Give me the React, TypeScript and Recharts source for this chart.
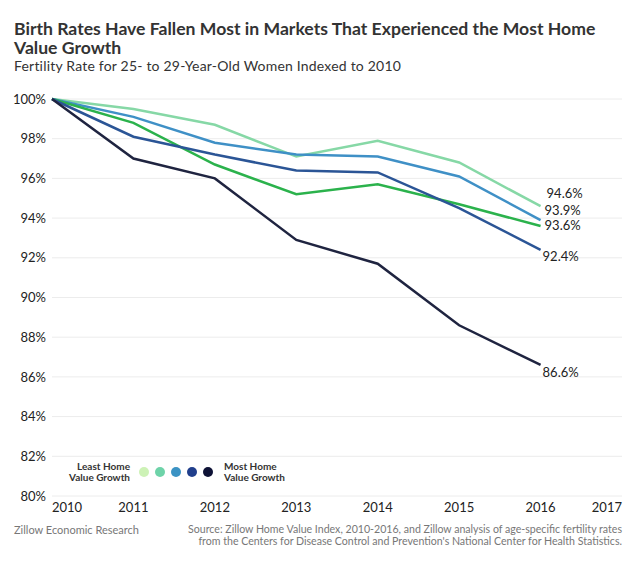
import React from 'react';
import { LineChart, Line, XAxis, YAxis, CartesianGrid, LabelList } from 'recharts';

const years = [2010, 2011, 2012, 2013, 2014, 2015, 2016];
const leastGrowth = [100, 99.5, 98.7, 97.1, 97.9, 96.8, 94.6];
const lowGrowth = [100, 99.1, 97.8, 97.2, 97.1, 96.1, 93.9];
const midGrowth = [100, 98.8, 96.7, 95.2, 95.7, 94.7, 93.6];
const highGrowth = [100, 98.1, 97.2, 96.4, 96.3, 94.5, 92.4];
const mostGrowth = [100, 97.0, 96.0, 92.9, 91.7, 88.6, 86.6];

const xTicks = [2010, 2011, 2012, 2013, 2014, 2015, 2016, 2017];
const yTicks = [80, 82, 84, 86, 88, 90, 92, 94, 96, 98, 100];
const legendColors = ['#cdf2b6', '#6ed3a9', '#3b93c4', '#213f8c', '#0e1236'];

const titleLine1 = 'Birth Rates Have Fallen Most in Markets That Experienced the Most Home';
const titleLine2 = 'Value Growth';
const subtitle = 'Fertility Rate for 25- to 29-Year-Old Women Indexed to 2010';
const legendLeft = ['Least Home', 'Value Growth'];
const legendRight = ['Most Home', 'Value Growth'];
const footerLeft = 'Zillow Economic Research';
const footerRight1 = 'Source: Zillow Home Value Index, 2010-2016, and Zillow analysis of age-specific fertility rates';
const footerRight2 = "from the Centers for Disease Control and Prevention's National Center for Health Statistics.";

const series = [
  { key: 'leastGrowth', values: leastGrowth, color: '#86d8a6', dx: 6, dy: -13 },
  { key: 'lowGrowth', values: lowGrowth, color: '#3f90c6', dx: 4, dy: -10 },
  { key: 'midGrowth', values: midGrowth, color: '#2bb24c', dx: 4, dy: -1 },
  { key: 'highGrowth', values: highGrowth, color: '#2b5596', dx: 2, dy: 7 },
  { key: 'mostGrowth', values: mostGrowth, color: '#1f2440', dx: 2, dy: 7 },
];

const data = years.map((year, i) => {
  const row: Record<string, number> = { year };
  series.forEach((s) => {
    row[s.key] = s.values[i];
  });
  return row;
});

const FONT = 'Lato, "Open Sans", sans-serif';

const XTick = (props: any) => {
  const { x, y, payload } = props;
  const v = payload.value;
  const anchor = v === xTicks[0] ? 'start' : v === xTicks[xTicks.length - 1] ? 'end' : 'middle';
  return (
    <text x={x} y={y} dy="0.71em" textAnchor={anchor} fill="#222" fontSize={13} fontFamily={FONT}>
      {v}
    </text>
  );
};

const makeEndLabel = (dx: number, dy: number) => (props: any) => {
  const { x, y, index, value } = props;
  if (index !== years.length - 1) return null;
  return (
    <text x={x + dx} y={y + dy} dy="0.35em" textAnchor="start" fill="#222" fontSize={13} fontFamily={FONT}>
      {`${value}%`}
    </text>
  );
};

const LegendBlock = () => (
  <div
    style={{
      position: 'absolute',
      left: 0,
      top: 461,
      height: 22,
      width: 300,
      fontFamily: FONT,
      fontWeight: 700,
      fontSize: 10,
      lineHeight: '11px',
      color: '#333',
    }}
  >
    <div style={{ position: 'absolute', left: 0, width: 130, textAlign: 'right', top: 0 }}>
      {legendLeft[0]}
      <br />
      {legendLeft[1]}
    </div>
    {legendColors.map((c, i) => (
      <span
        key={c}
        style={{
          position: 'absolute',
          left: 139 + i * 16,
          top: 6,
          width: 10,
          height: 10,
          borderRadius: 5,
          background: c,
        }}
      />
    ))}
    <div style={{ position: 'absolute', left: 224, top: 0, whiteSpace: 'nowrap' }}>
      {legendRight[0]}
      <br />
      {legendRight[1]}
    </div>
  </div>
);

export default function App() {
  return (
    <div style={{ position: 'absolute', left: 0, top: 0, width: 637, height: 562, background: '#fff', overflow: 'hidden' }}>
      <div
        style={{
          position: 'absolute',
          left: 14,
          top: 19,
          width: 620,
          fontFamily: FONT,
          fontWeight: 700,
          fontSize: 17.6,
          lineHeight: '19px',
          color: '#333',
          whiteSpace: 'nowrap',
        }}
      >
        {titleLine1}
        <br />
        {titleLine2}
      </div>
      <div
        style={{
          position: 'absolute',
          left: 14,
          top: 58,
          fontFamily: FONT,
          fontWeight: 400,
          fontSize: 14,
          letterSpacing: 0.2,
          lineHeight: '16px',
          color: '#333',
          whiteSpace: 'nowrap',
        }}
      >
        {subtitle}
      </div>
      <div style={{ position: 'absolute', left: 0, top: 0 }}>
        <LineChart width={637} height={562} data={data} margin={{ top: 99, right: 15, bottom: 36, left: 6 }}>
          <CartesianGrid vertical={false} stroke="#ececec" strokeWidth={1} />
          <XAxis
            dataKey="year"
            type="number"
            domain={[2010, 2017]}
            ticks={xTicks}
            interval={0}
            axisLine={false}
            tickLine={false}
            tickSize={0}
            tickMargin={7}
            height={30}
            tick={<XTick />}
          />
          <YAxis
            domain={[80, 100]}
            ticks={yTicks}
            interval={0}
            axisLine={false}
            tickLine={false}
            tickSize={0}
            tickMargin={6}
            width={46}
            tickFormatter={(v: number) => `${v}%`}
            tick={{ fill: '#222', fontSize: 13, fontFamily: FONT }}
          />
          {series.map((s) => (
            <Line
              key={s.key}
              dataKey={s.key}
              type="linear"
              stroke={s.color}
              strokeWidth={2.5}
              dot={false}
              activeDot={false}
              isAnimationActive={false}
            >
              <LabelList dataKey={s.key} content={makeEndLabel(s.dx, s.dy)} />
            </Line>
          ))}
        </LineChart>
      </div>
      <LegendBlock />
      <div
        style={{
          position: 'absolute',
          left: 14,
          top: 524,
          fontFamily: FONT,
          fontSize: 11,
          lineHeight: '12px',
          color: '#777',
          whiteSpace: 'nowrap',
        }}
      >
        {footerLeft}
      </div>
      <div
        style={{
          position: 'absolute',
          right: 15,
          top: 524,
          fontFamily: FONT,
          fontSize: 10.6,
          lineHeight: '11.5px',
          color: '#777',
          textAlign: 'right',
          whiteSpace: 'nowrap',
        }}
      >
        {footerRight1}
        <br />
        {footerRight2}
      </div>
    </div>
  );
}
